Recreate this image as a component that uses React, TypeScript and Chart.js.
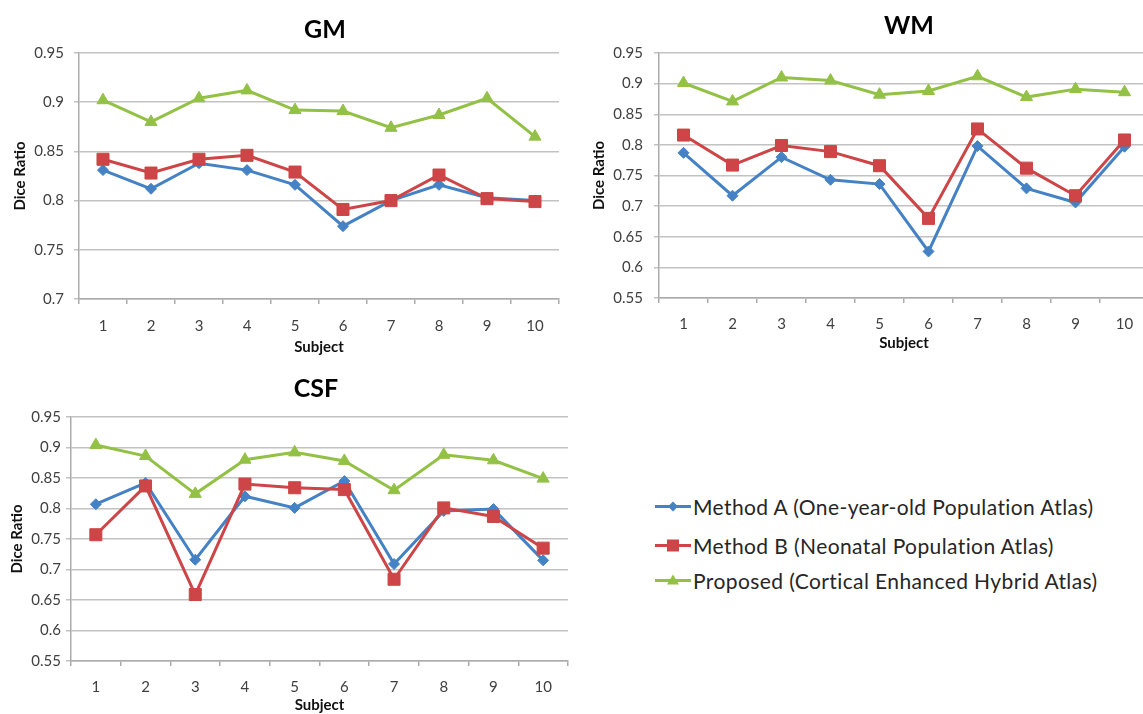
import React, { useEffect, useRef } from "react";
import { Chart, registerables } from "chart.js";

Chart.register(...registerables);

// ---- data -------------------------------------------------------------
const subjects = ["1", "2", "3", "4", "5", "6", "7", "8", "9", "10"];

const seriesNames = [
  "Method A (One-year-old Population Atlas)",
  "Method B (Neonatal Population Atlas)",
  "Proposed (Cortical Enhanced Hybrid Atlas)",
];

const gmMethodA = [0.831, 0.812, 0.838, 0.831, 0.816, 0.774, 0.8, 0.816, 0.803, 0.8];
const gmMethodB = [0.842, 0.828, 0.842, 0.846, 0.829, 0.791, 0.8, 0.826, 0.802, 0.799];
const gmProposed = [0.902, 0.88, 0.904, 0.912, 0.892, 0.891, 0.874, 0.887, 0.904, 0.865];

const wmMethodA = [0.787, 0.717, 0.78, 0.743, 0.736, 0.626, 0.798, 0.729, 0.706, 0.797];
const wmMethodB = [0.816, 0.767, 0.799, 0.789, 0.766, 0.68, 0.826, 0.762, 0.717, 0.808];
const wmProposed = [0.901, 0.871, 0.91, 0.905, 0.882, 0.888, 0.912, 0.878, 0.891, 0.886];

const csfMethodA = [0.807, 0.842, 0.716, 0.82, 0.801, 0.845, 0.709, 0.796, 0.799, 0.715];
const csfMethodB = [0.757, 0.837, 0.659, 0.84, 0.834, 0.831, 0.684, 0.801, 0.787, 0.735];
const csfProposed = [0.904, 0.886, 0.824, 0.88, 0.892, 0.878, 0.83, 0.888, 0.879, 0.849];

const gmYRange = [0.7, 0.95];
const wmYRange = [0.55, 0.95];
const csfYRange = [0.55, 0.95];
const yStep = 0.05;

// ---- styling ----------------------------------------------------------
const FONT = "Lato, 'Open Sans', 'DejaVu Sans', sans-serif";
const COLOR_A = "#4482C5";
const COLOR_B = "#CD4546";
const COLOR_P = "#93C145";
const GRID = "#C2C2C2";
const AXIS = "#ABABAB";
const TICK_TEXT = "#404040";

type PanelSpec = {
  title: string;
  a: number[];
  b: number[];
  p: number[];
  yRange: number[];
  box: { left: number; top: number; width: number; height: number };
  padTop: number;
  padRight: number;
  yWidth: number;
  xHeight: number;
  yTickPad: number;
  xTickPad: number;
  yTitlePad: number;
  xTitlePad: number;
  titleX: number;
  titleY: number;
};

const panels: PanelSpec[] = [
  {
    title: "GM",
    a: gmMethodA,
    b: gmMethodB,
    p: gmProposed,
    yRange: gmYRange,
    box: { left: 0, top: 0, width: 580, height: 360 },
    padTop: 53,
    padRight: 21,
    yWidth: 79,
    xHeight: 61,
    yTickPad: 10,
    xTickPad: 13,
    yTitlePad: 11,
    xTitlePad: 4,
    titleX: 325,
    titleY: 27.5,
  },
  {
    title: "WM",
    a: wmMethodA,
    b: wmMethodB,
    p: wmProposed,
    yRange: wmYRange,
    box: { left: 585, top: 0, width: 580, height: 360 },
    padTop: 53,
    padRight: 16,
    yWidth: 74,
    xHeight: 62,
    yTickPad: 11,
    xTickPad: 12,
    yTitlePad: 5,
    xTitlePad: 8,
    titleX: 909,
    titleY: 24,
  },
  {
    title: "CSF",
    a: csfMethodA,
    b: csfMethodB,
    p: csfProposed,
    yRange: csfYRange,
    box: { left: 0, top: 360, width: 580, height: 354 },
    padTop: 57,
    padRight: 12,
    yWidth: 71,
    xHeight: 53,
    yTickPad: 5,
    xTickPad: 12,
    yTitlePad: 8,
    xTitlePad: 0,
    titleX: 316,
    titleY: 387,
  },
];

function DicePanel({ spec }: { spec: PanelSpec }) {
  const ref = useRef<HTMLCanvasElement>(null);

  useEffect(() => {
    if (!ref.current) return;
    const tickFont = { family: FONT, size: 15 };
    const axisTitleFont = { family: FONT, size: 15, weight: "bold" as const };
    const chart = new Chart(ref.current, {
      type: "line",
      data: {
        labels: subjects,
        datasets: [
          {
            label: seriesNames[0],
            data: spec.a,
            borderColor: COLOR_A,
            backgroundColor: COLOR_A,
            pointStyle: "rectRot",
            pointRadius: 5.5,
            pointBorderWidth: 1,
            borderWidth: 3,
            order: 3,
          },
          {
            label: seriesNames[1],
            data: spec.b,
            borderColor: COLOR_B,
            backgroundColor: COLOR_B,
            pointStyle: "rect",
            pointRadius: 8.5,
            pointBorderWidth: 1,
            borderWidth: 3,
            order: 2,
          },
          {
            label: seriesNames[2],
            data: spec.p,
            borderColor: COLOR_P,
            backgroundColor: COLOR_P,
            pointStyle: "triangle",
            pointRadius: 7,
            pointBorderWidth: 1,
            borderWidth: 3,
            order: 1,
          },
        ],
      },
      options: {
        animation: false,
        responsive: false,
        devicePixelRatio: 1,
        layout: {
          padding: { left: 0, top: spec.padTop, right: spec.padRight, bottom: 0 },
        },
        plugins: {
          legend: { display: false },
          tooltip: { enabled: false },
          title: { display: false },
        },
        scales: {
          x: {
            type: "category",
            offset: true,
            grid: {
              display: true,
              drawOnChartArea: false,
              drawTicks: true,
              tickLength: 5,
              offset: true,
              color: AXIS,
              lineWidth: 1.5,
            },
            border: { display: true, color: AXIS, width: 1.5 },
            ticks: { font: tickFont, color: TICK_TEXT, padding: spec.xTickPad, maxRotation: 0 },
            title: {
              display: true,
              text: "Subject",
              font: axisTitleFont,
              color: "#111",
              padding: { top: 0, bottom: spec.xTitlePad },
            },
            afterFit: (scale: any) => {
              scale.height = spec.xHeight;
            },
          },
          y: {
            min: spec.yRange[0],
            max: spec.yRange[1],
            grid: {
              color: GRID,
              lineWidth: 1.5,
              drawTicks: true,
              tickLength: 5,
            },
            border: { display: true, color: AXIS, width: 1.5 },
            ticks: {
              stepSize: yStep,
              font: tickFont,
              color: TICK_TEXT,
              padding: spec.yTickPad,
              callback: (v: any) => String(Number(Number(v).toFixed(2))),
            },
            title: {
              display: true,
              text: "Dice Ratio",
              font: axisTitleFont,
              color: "#111",
              padding: { top: spec.yTitlePad, bottom: 0 },
            },
            afterFit: (scale: any) => {
              scale.width = spec.yWidth;
            },
          },
        },
      },
    });
    return () => chart.destroy();
  }, [spec]);

  return (
    <>
      <div
        style={{
          position: "absolute",
          left: spec.box.left,
          top: spec.box.top,
          width: spec.box.width,
          height: spec.box.height,
        }}
      >
        <canvas ref={ref} width={spec.box.width} height={spec.box.height} />
      </div>
      <div
        style={{
          position: "absolute",
          left: spec.titleX,
          top: spec.titleY,
          transform: "translate(-50%, -50%)",
          font: `bold 25px ${FONT}`,
          lineHeight: "30px",
          color: "#000",
          whiteSpace: "nowrap",
        }}
      >
        {spec.title}
      </div>
    </>
  );
}

function LegendIcon({ color, shape }: { color: string; shape: "diamond" | "square" | "triangle" }) {
  return (
    <svg width={36} height={18} style={{ display: "block" }}>
      <line x1={0} y1={9} x2={36} y2={9} stroke={color} strokeWidth={3} />
      {shape === "diamond" && <polygon points="18,4 23,9 18,14 13,9" fill={color} />}
      {shape === "square" && <rect x={12} y={3} width={12} height={12} fill={color} />}
      {shape === "triangle" && <polygon points="18,3 24,13 12,13" fill={color} />}
    </svg>
  );
}

const legendItems = [
  { name: seriesNames[0], color: COLOR_A, shape: "diamond" as const, y: 506 },
  { name: seriesNames[1], color: COLOR_B, shape: "square" as const, y: 545 },
  { name: seriesNames[2], color: COLOR_P, shape: "triangle" as const, y: 580 },
];

export default function App() {
  return (
    <div
      style={{
        position: "fixed",
        left: 0,
        top: 0,
        width: 1143,
        height: 714,
        overflow: "hidden",
        background: "#fff",
      }}
    >
      {panels.map((p) => (
        <DicePanel key={p.title} spec={p} />
      ))}
      {legendItems.map((item) => (
        <div
          key={item.name}
          style={{
            position: "absolute",
            left: 655,
            top: item.y,
            transform: "translateY(-50%)",
            display: "flex",
            alignItems: "center",
            gap: 2,
            font: `21px ${FONT}`,
            letterSpacing: "0.4px",
            color: "#262626",
            whiteSpace: "nowrap",
          }}
        >
          <LegendIcon color={item.color} shape={item.shape} />
          <span>{item.name}</span>
        </div>
      ))}
    </div>
  );
}
